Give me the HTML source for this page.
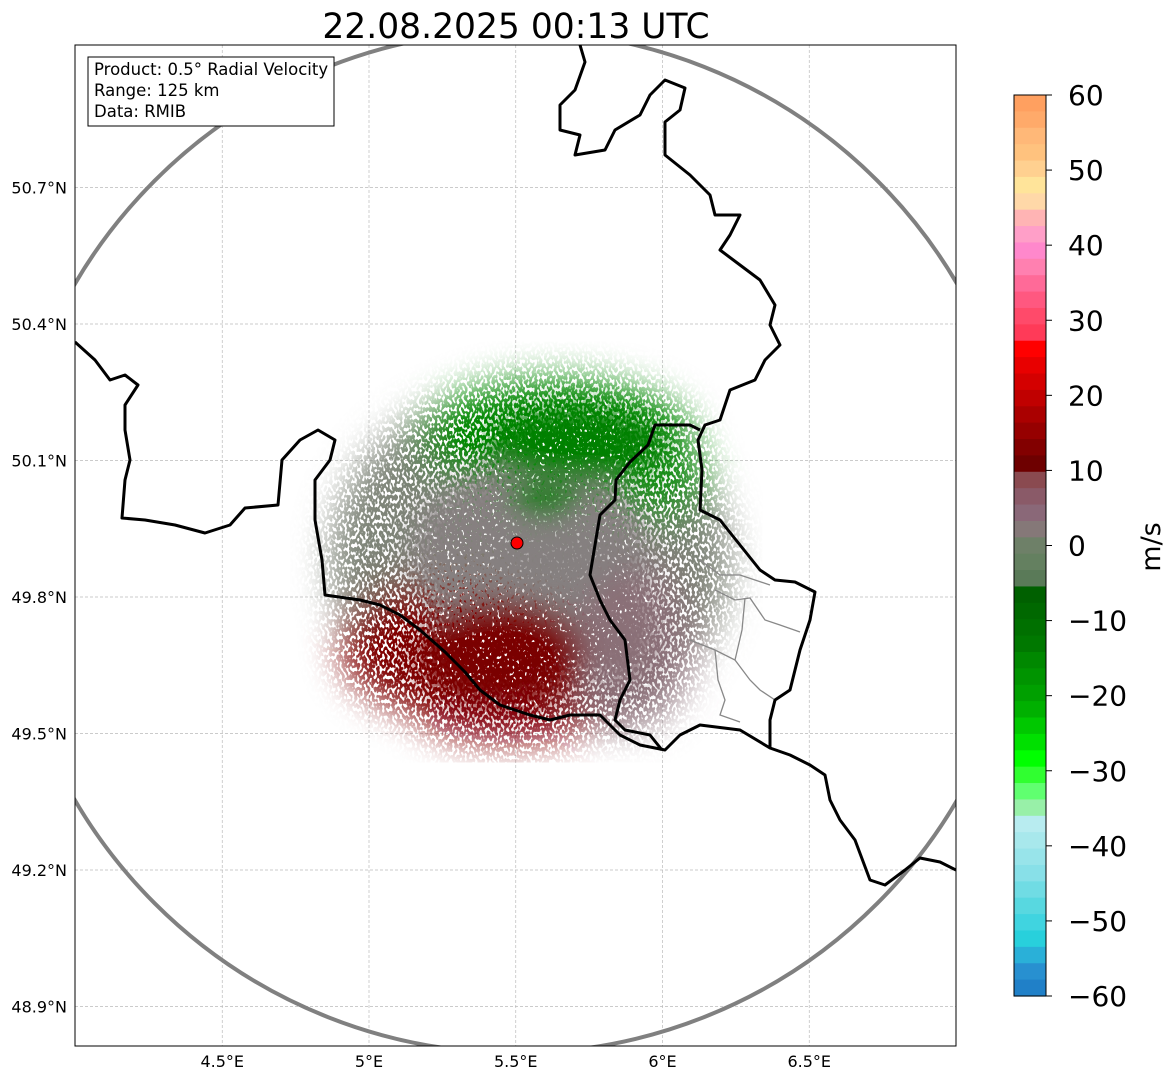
<!DOCTYPE html>
<html><head><meta charset="utf-8"><style>
html,body{margin:0;padding:0;background:#fff;}
svg{display:block;font-family:"DejaVu Sans","Liberation Sans",sans-serif;}
</style></head><body>
<svg id="chart" width="1171" height="1081" viewBox="0 0 1171 1081">
<defs>
<clipPath id="plotclip"><rect x="75" y="45" width="881" height="1001"/></clipPath>
<filter id="speck" x="0" y="0" width="1171" height="1081" filterUnits="userSpaceOnUse">
<feTurbulence type="fractalNoise" baseFrequency="0.4 0.25" numOctaves="1" seed="7" result="n"/>
<feColorMatrix in="n" type="matrix" values="0 0 0 0 0  0 0 0 0 0  0 0 0 0 0  16 0 0 0 -6.8" result="m"/>
<feComposite in="SourceGraphic" in2="m" operator="in"/>
</filter>
<filter id="speckd" x="0" y="0" width="1171" height="1081" filterUnits="userSpaceOnUse">
<feTurbulence type="fractalNoise" baseFrequency="0.4 0.3" numOctaves="1" seed="23" result="n"/>
<feColorMatrix in="n" type="matrix" values="0 0 0 0 0  0 0 0 0 0  0 0 0 0 0  16 0 0 0 -5.6" result="m"/>
<feComposite in="SourceGraphic" in2="m" operator="in"/>
</filter>
<filter id="blur"><feGaussianBlur stdDeviation="18"/></filter>
<filter id="blur2"><feGaussianBlur stdDeviation="14"/></filter>
</defs>
<g id="grid"></g>
<g clip-path="url(#plotclip)">
 <g>
  <g filter="url(#speck)">
   <g filter="url(#blur)">
    <ellipse cx="530" cy="560" rx="200" ry="175" fill="#7e8478"/>
    <ellipse cx="555" cy="440" rx="140" ry="62" fill="#008800"/>
    <ellipse cx="650" cy="480" rx="60" ry="45" fill="#1a901a"/>
    <ellipse cx="620" cy="640" rx="75" ry="90" fill="#8a7078"/>
    <ellipse cx="460" cy="645" rx="120" ry="75" fill="#800000"/>
    <ellipse cx="510" cy="715" rx="90" ry="28" fill="#860010"/>
   </g>
  </g>
  <g filter="url(#speckd)">
   <g filter="url(#blur2)">
    <ellipse cx="530" cy="555" rx="120" ry="90" fill="#868080"/>
    <ellipse cx="575" cy="445" rx="90" ry="40" fill="#008000"/>
    <ellipse cx="500" cy="655" rx="85" ry="55" fill="#7a0000"/>
    <ellipse cx="620" cy="630" rx="40" ry="60" fill="#8a6f77"/>
   </g>
  </g>
  <g filter="url(#blur2)" opacity="0.75">
   <ellipse cx="555" cy="560" rx="60" ry="30" fill="#858080"/>
   <ellipse cx="545" cy="500" rx="30" ry="18" fill="#007a00"/>
  </g>
 </g>
 <circle cx="516" cy="542" r="511" fill="none" stroke="#808080" stroke-width="4"/>
 <g fill="none" stroke="#888" stroke-width="1.3">
  <polyline points="700,560 720,575 740,575 755,580 770,585"/>
  <polyline points="715,590 735,600 750,598 765,620 780,625 800,632"/>
  <polyline points="690,640 715,650 735,660 750,680 760,690 775,700"/>
  <polyline points="715,650 718,680 725,700 720,715 740,722"/>
  <polyline points="745,598 742,630 735,660"/>
 </g>
 <g fill="none" stroke="#000" stroke-width="3" stroke-linejoin="round">
  <polyline points="580,45 585,62 575,90 560,105 560,130 580,135 575,155 605,150 615,130 640,115 650,95 665,80 685,88 680,110 665,122 665,155 690,175 710,195 715,215 740,215 730,235 720,250 740,265 760,280 775,305 770,325 780,345 765,360 755,380 730,390 720,420 705,425 698,440 702,470 700,510 720,520 740,545 760,570 775,580 795,582 815,592 810,620 800,650 790,690 775,700 770,720 770,748 790,755 810,765 825,775 830,800 840,820 855,840 870,880 885,885 905,870 920,858 940,862 956,870"/>
  <polyline points="770,748 740,730 700,725 680,735 665,750 640,745 620,735 600,715 570,715 550,720 530,715 500,705 480,690 465,672 445,652 420,630 400,615 380,605 360,600 325,595 322,560 315,520 315,480 330,460 335,440 318,430 300,440 282,460 278,505 245,508 230,525 205,533 175,525 145,520 122,518 125,480 130,460 125,430 125,405 138,385 125,375 110,380 95,360 75,342"/>
  <polyline points="700,430 690,425 655,425 648,445 630,462 616,480 615,500 600,515 595,545 590,575 600,600 610,620 625,640 630,680 620,700 615,720 625,730 650,735 662,750"/>
 </g>
 <circle cx="517" cy="543" r="6" fill="#ff0000" stroke="#000" stroke-width="1"/>
</g>
<rect x="75" y="45" width="881" height="1001" fill="none" stroke="#000" stroke-width="1"/>
<g id="xticks"></g>
<g id="yticks"></g>
<text x="516" y="38" font-size="34.5" text-anchor="middle">22.08.2025 00:13 UTC</text>
<g>
 <rect x="88" y="57" width="246" height="69" fill="#fff" stroke="#000" stroke-width="1"/>
 <text x="94" y="75" font-size="16.5">Product: 0.5° Radial Velocity</text>
 <text x="94" y="96" font-size="16.5">Range: 125 km</text>
 <text x="94" y="117" font-size="16.5">Data: RMIB</text>
</g>
<g id="cbar"></g>
<text transform="translate(1160,547) rotate(-90)" font-size="27" text-anchor="middle">m/s</text>
<script>
const lonTicks=[4.5,5,5.5,6,6.5];
const latTicks=[48.9,49.2,49.5,49.8,50.1,50.4,50.7];
const cbTicks=[-60,-50,-40,-30,-20,-10,0,10,20,30,40,50,60];
const cbColors=["#ffa060","#ffaa6a","#ffb878","#ffc27e","#ffd090","#ffe49a","#ffd8a8","#ffb4b4","#ff9fc8","#ff88cc","#ff80b0","#ff6a98","#ff5880","#ff4a6a","#ff3a58","#ff0000","#e80000","#d40000","#c00000","#aa0000","#960000","#820000","#6e0000","#8a4a50","#8a5a68","#8a6878","#857878","#6e8068","#648060","#5a7a58","#006000","#006800","#007000","#007800","#008800","#009400","#00a000","#00b000","#00c800","#00e000","#00ff00","#30ff30","#60ff70","#98f0a8","#b8ecf0","#a8e8ec","#98e4ea","#88e0e8","#70dce4","#58d8e0","#40d4e0","#28d0dc","#2ab0d8","#2890d0","#2080c8"];
const NS="http://www.w3.org/2000/svg";
function lonX(l){return 369+(l-5)*293.5;}
function latY(l){return 597-(l-49.8)*455;}
function cbY(v){return 996-(v+60)*901/120;}
function mk(t,a,p){const e=document.createElementNS(NS,t);for(const k in a)e.setAttribute(k,a[k]);p.appendChild(e);return e;}
const grid=document.getElementById('grid'),xt=document.getElementById('xticks'),yt=document.getElementById('yticks'),cb=document.getElementById('cbar');
lonTicks.forEach(l=>{const x=lonX(l);
 const g=mk('line',{x1:x,x2:x,y1:45,y2:1046,stroke:'#bbb','stroke-width':0.7,'stroke-dasharray':'3,2'},grid);
 
 
 const t=mk('text',{x:x,y:1067,'font-size':16,'text-anchor':'middle'},xt);t.textContent=(l%1===0?l.toFixed(0):l)+'°E';
 
 
});
latTicks.forEach(l=>{const y=latY(l);
 const g=mk('line',{x1:75,x2:956,y1:y,y2:y,stroke:'#bbb','stroke-width':0.7,'stroke-dasharray':'3,2'},grid);
 
 
 const t=mk('text',{x:67,y:y+6,'font-size':16,'text-anchor':'end'},yt);t.textContent=l.toFixed(1)+'°N';
 
 
});
const n=cbColors.length,h=901/n;
cbColors.forEach((c,i)=>{
 const r=mk('rect',{x:1014,y:95+i*h,width:32,height:h+0.6,fill:c},cb);
 
 
});
mk('rect',{x:1014,y:95,width:32,height:901,fill:'none',stroke:'#000','stroke-width':1},cb);
cbTicks.forEach(v=>{const y=cbY(v);
 mk('line',{x1:1046,x2:1052,y1:y,y2:y,stroke:'#000'},cb);
 const t=mk('text',{x:1068,y:y+10,'font-size':28},cb);t.textContent=(v<0?'\u2212'+(-v):String(v));
 
 
});
</script>
</svg>
</body></html>
